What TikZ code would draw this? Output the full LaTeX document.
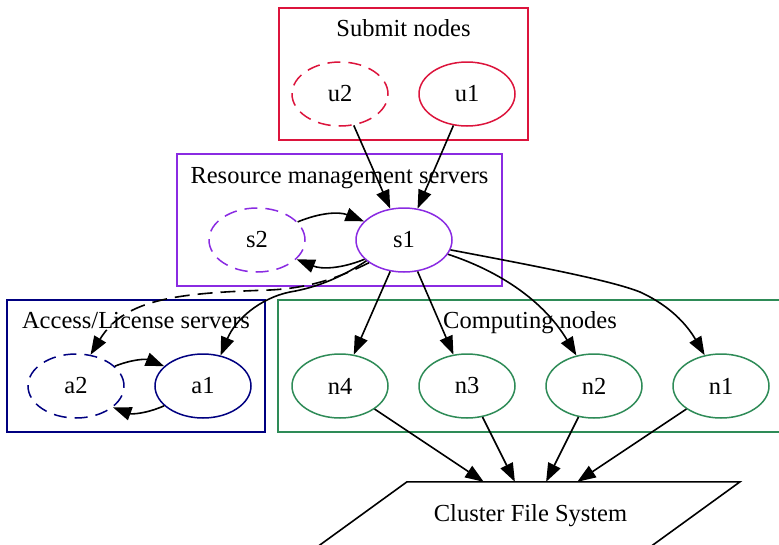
\documentclass[tikz,border=0pt]{standalone}
\usepackage{fontspec}
\setmainfont{Liberation Serif}
\usetikzlibrary{shapes.geometric,arrows.meta,calc}

\definecolor{submitcol}{RGB}{220,20,60}
\definecolor{rmcol}{RGB}{138,43,226}
\definecolor{accesscol}{RGB}{0,0,128}
\definecolor{computecol}{RGB}{46,139,87}

\tikzset{
  host/.style={ellipse, draw, line width=1.5pt, minimum width=96pt,
    minimum height=64pt, inner sep=0pt},
  backup/.style={host, dash pattern=on 13pt off 8pt},
  cluster/.style={draw, line width=1.5pt},
  clusterlabel/.style={anchor=base, inner sep=0pt},
  edge/.style={draw=black, line width=1.6pt,
    -{Triangle[length=18.5pt,width=13.5pt]}},
  dashededge/.style={edge, dash pattern=on 15pt off 8pt},
  fsbox/.style={rectangle, minimum width=300pt, minimum height=62pt,
    inner sep=0pt, text depth=0pt},
}

\begin{document}
\begin{tikzpicture}[x=1pt, y=1pt, font=\fontsize{24.5}{29}\selectfont]
\useasboundingbox (0,0) rectangle (779,-544);
\clip (0,0) rectangle (779,-544);

% clusters
\draw[cluster, submitcol] (279,-8) rectangle (528,-140);
\node[clusterlabel] (lsubmit) at (403.5,-36) {Submit nodes};
\draw[cluster, rmcol] (177,-154) rectangle (502,-286);
\node[clusterlabel] (lrm) at (339.5,-183) {Resource management servers};
\draw[cluster, accesscol] (7,-300) rectangle (265,-432);
\node[clusterlabel] (laccess) at (136,-328) {Access/License servers};
\draw[cluster, computecol] (278,-300) rectangle (782,-432);
\node[clusterlabel] (lcompute) at (530,-328) {Computing nodes};

% hosts
\node[backup, submitcol] (u2) at (340,-94) {\color{black}u2};
\node[host, submitcol] (u1) at (467,-94) {\color{black}u1};
\node[backup, rmcol] (s2) at (257,-240) {\color{black}s2};
\node[host, rmcol] (s1) at (404,-240) {\color{black}s1};
\node[backup, accesscol] (a2) at (76,-386) {\color{black}a2};
\node[host, accesscol] (a1) at (203,-386) {\color{black}a1};
\node[host, computecol] (n4) at (340,-386) {\color{black}n4};
\node[host, computecol] (n3) at (467,-386) {\color{black}n3};
\node[host, computecol] (n2) at (594,-386) {\color{black}n2};
\node[host, computecol] (n1) at (721,-386) {\color{black}n1};

% shared file system
\node[fsbox] (cfs) at (530.5,-513) {Cluster File System};
\draw[line width=1.6pt]
  ($(cfs.north)+(-123.5,0)$) -- ($(cfs.north)+(209.5,0)$)
  -- ($(cfs.south)+(120.7,-2)$) -- ($(cfs.south)+(-212.3,-2)$) -- cycle;

% submit -> resource manager
\draw[edge] (u2) -- (s1);
\draw[edge] (u1) -- (s1);
\draw[edge] (s2.24) to[bend left=22] (s1.155);
\draw[edge] (s1.206) to[bend left=22] (s2.-26);

% resource manager -> access servers
\draw[dashededge] (s1.213) .. controls (338,-278) and (310,-288) .. (270,-290)
  .. controls (180,-293) and (125,-298) .. (a2.65);
\draw[edge] (s1.209) .. controls (345,-275) and (320,-287) .. (290,-292)
  .. controls (260,-298) and (235,-320) .. (a1.60);
\draw[edge] (a2.27) to[bend left=22] (a1.153);
\draw[edge] (a1.207) to[bend left=22] (a2.-30);

% resource manager -> computing nodes
\draw[edge] (s1) -- (n4);
\draw[edge] (s1) -- (n3);
\draw[edge] (s1.-18) .. controls (490,-268) and (540,-295) .. (n2.120);
\draw[edge] (s1.-12) .. controls (530,-265) and (610,-280) .. (640,-292)
  .. controls (675,-308) and (690,-330) .. (n1.118);

% computing nodes -> file system
\draw[edge] (n4) -- (cfs);
\draw[edge] (n3) -- (cfs);
\draw[edge] (n2) -- (cfs);
\draw[edge] (n1) -- (cfs);
\end{tikzpicture}
\end{document}
